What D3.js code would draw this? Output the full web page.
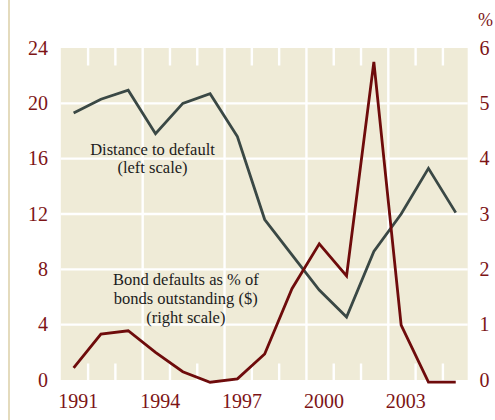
<!DOCTYPE html>
<html>
<head>
<meta charset="utf-8">
<script src="https://cdn.jsdelivr.net/npm/d3@7"></script>
</head>
<body style="margin:0">
<script>
// Years shown on the chart (one observation per year, plotted mid-year)
const years = [1991, 1992, 1993, 1994, 1995, 1996, 1997, 1998, 1999, 2000, 2001, 2002, 2003, 2004, 2005];

// Distance to default (left scale)
const distanceToDefault = [19.3, 20.3, 20.95, 17.8, 20.0, 20.7, 17.6, 11.6, 9.05, 6.5, 4.55, 9.3, 12.0, 15.3, 12.1];

// Bond defaults as % of bonds outstanding (right scale)
const bondDefaults = [0.22, 0.83, 0.89, 0.50, 0.15, -0.04, 0.02, 0.47, 1.65, 2.46, 1.88, 5.75, 0.99, -0.04, -0.04];

// Axis ticks
const leftTicks = [0, 4, 8, 12, 16, 20, 24];
const rightTicks = [0, 1, 2, 3, 4, 5, 6];
const yearLabels = [1991, 1994, 1997, 2000, 2003];

const W = 495, H = 420;
const plot = { left: 60.8, right: 467.7, top: 48, bottom: 380 };
const serif = "'Liberation Serif'";

const svg = d3.select("body").append("svg")
  .attr("width", W).attr("height", H)
  .style("display", "block");

// Thin rule down the left margin
svg.append("rect")
  .attr("x", 8).attr("y", 0).attr("width", 2).attr("height", H)
  .attr("fill", "#e4dbbd");

const x = d3.scaleLinear().domain([1991, 2006]).range([plot.left, 470.2]);
const yLeft = d3.scaleLinear().domain([0, 24]).range([plot.bottom, plot.top]);
const yRight = d3.scaleLinear().domain([0, 6]).range([plot.bottom, plot.top]);

// Panel background
svg.append("rect")
  .attr("x", plot.left).attr("y", plot.top)
  .attr("width", plot.right - plot.left).attr("height", plot.bottom - plot.top)
  .attr("fill", "#efebd7");

const grid = svg.append("g").attr("stroke", "#ffffff").attr("stroke-width", 2.4);

// Horizontal gridlines
grid.selectAll("line.h")
  .data(leftTicks.filter(d => d > 0 && d < 24))
  .join("line")
  .attr("class", "h")
  .attr("x1", plot.left).attr("x2", plot.right)
  .attr("y1", d => yLeft(d)).attr("y2", d => yLeft(d));

// Vertical gridlines every three years
grid.selectAll("line.v")
  .data(yearLabels.filter(d => d > 1991))
  .join("line")
  .attr("class", "v")
  .attr("x1", d => x(d)).attr("x2", d => x(d))
  .attr("y1", plot.top).attr("y2", plot.bottom);

// Short year ticks at top and bottom edges
const minorYears = years.filter(d => d > 1991 && !yearLabels.includes(d));
grid.selectAll("line.tt")
  .data(minorYears)
  .join("line")
  .attr("class", "tt")
  .attr("x1", d => x(d)).attr("x2", d => x(d))
  .attr("y1", plot.top).attr("y2", plot.top + 17.5);
grid.selectAll("line.tb")
  .data(minorYears)
  .join("line")
  .attr("class", "tb")
  .attr("x1", d => x(d)).attr("x2", d => x(d))
  .attr("y1", plot.bottom - 16.5).attr("y2", plot.bottom);

const axisColor = "#7d1416";

// Left axis labels
svg.append("g").selectAll("text")
  .data(leftTicks)
  .join("text")
  .style("font-family", serif)
  .attr("x", 48).attr("y", d => yLeft(d))
  .attr("dy", "0.33em")
  .attr("text-anchor", "end")
  .attr("font-size", 20)
  .attr("fill", axisColor)
  .text(d => d);

// Right axis labels
svg.append("g").selectAll("text")
  .data(rightTicks)
  .join("text")
  .style("font-family", serif)
  .attr("x", 484.5).attr("y", d => yRight(d))
  .attr("dy", "0.33em")
  .attr("text-anchor", "middle")
  .attr("font-size", 20)
  .attr("fill", axisColor)
  .text(d => d);

svg.append("text")
  .style("font-family", serif)
  .attr("x", 485.5).attr("y", 25.5)
  .attr("text-anchor", "middle")
  .attr("font-size", 18)
  .attr("fill", axisColor)
  .text("%");

// Year labels along the bottom
svg.append("g").selectAll("text")
  .data(yearLabels)
  .join("text")
  .style("font-family", serif)
  .attr("x", d => x(d) - 2.5).attr("y", 408)
  .attr("text-anchor", "start")
  .attr("font-size", 20)
  .attr("fill", axisColor)
  .text(d => d);

// Series lines
const distLine = d3.line()
  .x((d, i) => x(years[i] + 0.47))
  .y(d => yLeft(d));
const bondLine = d3.line()
  .x((d, i) => x(years[i] + 0.47))
  .y(d => yRight(d));

svg.append("path")
  .datum(distanceToDefault)
  .attr("d", distLine)
  .attr("fill", "none")
  .attr("stroke", "#3a4845")
  .attr("stroke-width", 2.8)
  .attr("stroke-linejoin", "miter");

svg.append("path")
  .datum(bondDefaults)
  .attr("d", bondLine)
  .attr("fill", "none")
  .attr("stroke", "#6e0b0b")
  .attr("stroke-width", 2.8)
  .attr("stroke-linejoin", "miter");

// Series annotations
const annotate = (cx, baseline, lines, step) => {
  const t = svg.append("text")
    .style("font-family", serif)
    .attr("text-anchor", "middle")
    .attr("font-size", 16.5)
    .attr("fill", "#1c1c1c");
  lines.forEach((s, i) => {
    t.append("tspan").attr("x", cx).attr("y", baseline + i * step).text(s);
  });
};
annotate(152.5, 155, ["Distance to default", "(left scale)"], 18.3);
annotate(185.8, 285, ["Bond defaults as % of", "bonds outstanding ($)", "(right scale)"], 19.2);
</script>
</body>
</html>
